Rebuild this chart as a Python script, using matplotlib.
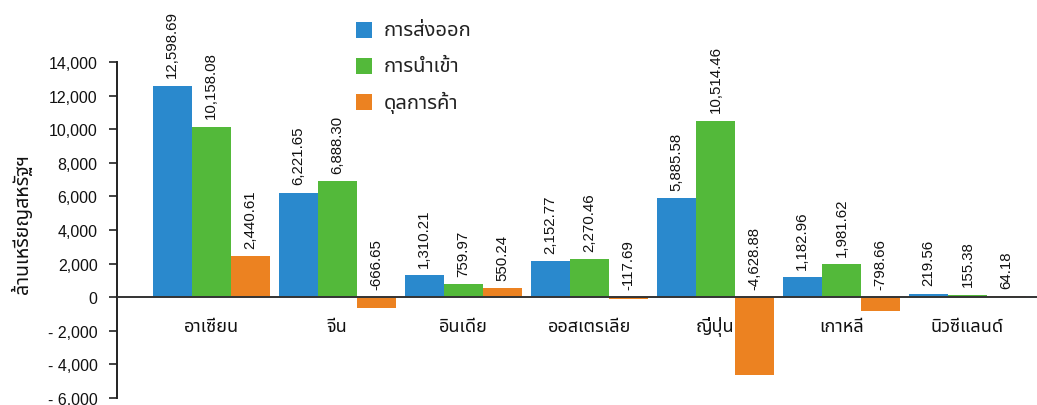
import matplotlib
matplotlib.use("Agg")
import matplotlib.pyplot as plt
from matplotlib.patches import Rectangle
from matplotlib.ticker import FuncFormatter

# ---- data ----
categories = ["อาเซียน", "จีน", "อินเดีย", "ออสเตรเลีย", "ญี่ปุ่น", "เกาหลี", "นิวซีแลนด์"]
series_names = ["การส่งออก", "การนำเข้า", "ดุลการค้า"]
exports = [12598.69, 6221.65, 1310.21, 2152.77, 5885.58, 1182.96, 219.56]
imports = [10158.08, 6888.30, 759.97, 2270.46, 10514.46, 1981.62, 155.38]
balance = [2440.61, -666.65, 550.24, -117.69, -4628.88, -798.66, 64.18]
y_ticks = [-6000, -4000, -2000, 0, 2000, 4000, 6000, 8000, 10000, 12000, 14000]
y_label = "ล้านเหรียญสหรัฐฯ"

colors = ["#2A89CD", "#53B93A", "#EC8221"]
NUM_FONT = ["Liberation Sans", "Noto Sans Thai", "DejaVu Sans"]
THAI_FONT = ["Noto Sans Thai", "Liberation Sans", "DejaVu Sans"]

W, H = 1037, 406
fig = plt.figure(figsize=(W / 100, H / 100), dpi=100)
ax_left = 117 / W
ax_bottom = (H - 399) / H
ax_top = (H - 63) / H
ax = fig.add_axes([ax_left, ax_bottom, 1 - ax_left, ax_top - ax_bottom])

n = len(categories)
bw = 0.31
offsets = [-bw, 0, bw]
all_series = [exports, imports, balance]
for s, (vals, col, off) in enumerate(zip(all_series, colors, offsets)):
    xs = [i + off for i in range(n)]
    ax.bar(xs, vals, width=bw, color=col, zorder=2, linewidth=0)
    for x, v in zip(xs, vals):
        ax.annotate(f"{v:,.2f}", xy=(x, max(v, 0)), xytext=(0, 6),
                    textcoords="offset points", rotation=90,
                    ha="center", va="bottom", fontsize=10.8,
                    family=NUM_FONT, color="#111111", annotation_clip=False)

ax.axhline(0, color="#333333", lw=1.4, zorder=3)

ax.set_ylim(-6000, 14000)
ax.set_xlim((117 - 211.2) / 126.05, (1037 - 211.2) / 126.05)
ax.set_yticks(y_ticks)


def fmt(v, pos):
    v = int(round(v))
    if v < 0:
        return f"- {abs(v):,}"
    return f"{v:,}"


ax.yaxis.set_major_formatter(FuncFormatter(fmt))
for lab in ax.get_yticklabels():
    lab.set_family(NUM_FONT)
    lab.set_fontsize(11.5)
    lab.set_color("#111111")
ax.tick_params(axis="y", direction="out", length=6, width=1.2, pad=8, color="#222222")
ax.set_xticks([])
for sp in ["top", "right", "bottom"]:
    ax.spines[sp].set_visible(False)
ax.spines["left"].set_linewidth(1.4)
ax.spines["left"].set_color("#222222")

# category labels under the zero line
for i, c in enumerate(categories):
    ax.annotate(c, xy=(i, 0), xytext=(0, -21), textcoords="offset points",
                ha="center", va="center", fontsize=13, family=THAI_FONT,
                color="#111111")

# y label
fig.text(22 / W, 1 - 224 / H, y_label, rotation=90, ha="center", va="center",
         fontsize=14, family=THAI_FONT, color="#111111")

# legend
for k, (name, col) in enumerate(zip(series_names, colors)):
    yc = 31 + 36 * k
    fig.add_artist(Rectangle((356 / W, 1 - (yc + 8) / H), 16 / W, 16 / H,
                             transform=fig.transFigure, color=col, lw=0))
    fig.text(384 / W, 1 - yc / H, name, ha="left", va="center",
             fontsize=14.5, family=THAI_FONT, color="#222222")

fig.savefig("out.png", dpi=100)
